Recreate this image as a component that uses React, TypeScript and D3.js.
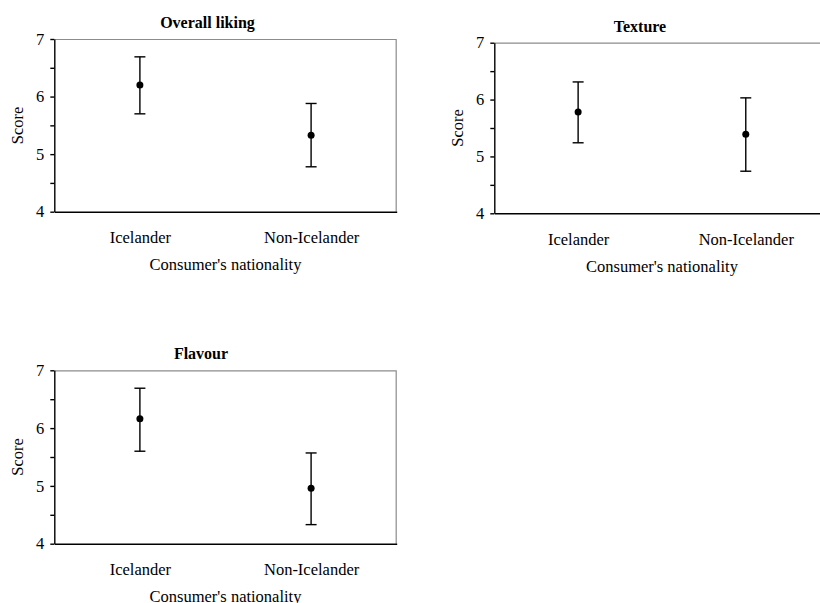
import React, { useRef, useEffect } from "react";
import { select, scaleLinear, scalePoint, axisLeft, axisBottom, range } from "d3";

// data
const categories = ["Icelander", "Non-Icelander"];
const yTicks = range(4, 7.01, 0.5);

const overallMean = [6.2, 5.33];
const overallLow = [5.7, 4.78];
const overallHigh = [6.69, 5.88];

const textureMean = [5.78, 5.39];
const textureLow = [5.24, 4.74];
const textureHigh = [6.31, 6.03];

const flavourMean = [6.16, 4.96];
const flavourLow = [5.6, 4.33];
const flavourHigh = [6.69, 5.57];

const xTitle = "Consumer's nationality";
const yTitle = "Score";

const W = 820;
const H = 603;
const FONT = "'Liberation Serif', 'Times New Roman', 'DejaVu Serif', serif";

const panels = [
  { title: "Overall liking", mean: overallMean, low: overallLow, high: overallHigh,
    left: 54.3, top: 39, width: 342.4, height: 172.7, titleX: 207.5, titleY: 22.7 },
  { title: "Texture", mean: textureMean, low: textureLow, high: textureHigh,
    left: 494.3, top: 42.7, width: 335.3, height: 170.6, titleX: 640, titleY: 26.7 },
  { title: "Flavour", mean: flavourMean, low: flavourLow, high: flavourHigh,
    left: 54.3, top: 370.3, width: 342.4, height: 173.4, titleX: 201, titleY: 353.3 },
];

const App = () => {
  const svgRef = useRef(null);

  useEffect(() => {
    const svg = select(svgRef.current);
    svg.selectAll("*").remove();

    panels.forEach(p => {
      const g = svg.append("g").attr("transform", `translate(${p.left},${p.top})`);

      const x = scalePoint().domain(categories).range([0, p.width]).padding(0.5);
      const y = scaleLinear().domain([4, 7]).range([p.height, 0]);

      // grey frame on top and right
      g.append("path")
        .attr("d", `M0,0.5H${p.width - 0.5}V${p.height}`)
        .attr("fill", "none")
        .attr("stroke", "#8c8c8c")
        .attr("stroke-width", 1.2);

      const yAxis = axisLeft(y)
        .tickValues(yTicks)
        .tickSize(4)
        .tickSizeOuter(0)
        .tickPadding(6)
        .tickFormat(d => (Number.isInteger(d) ? String(d) : ""));
      const ya = g.append("g").call(yAxis).attr("font-family", null).style("font-family", FONT);
      ya.selectAll("path, line").attr("stroke", "#000").attr("stroke-width", 1.4);
      ya.selectAll("text").style("font-family", FONT).attr("font-size", 16.5).attr("fill", "#000");

      const xAxis = axisBottom(x).tickSize(0).tickSizeOuter(0).tickPadding(20);
      const xa = g.append("g").attr("transform", `translate(0,${p.height})`).call(xAxis)
        .attr("font-family", null).style("font-family", FONT);
      xa.select(".domain").attr("stroke", "#000").attr("stroke-width", 1.4);
      xa.selectAll("text").style("font-family", FONT).attr("font-size", 16.5).attr("fill", "#000");

      // error bars
      const bars = g.selectAll(".err")
        .data(categories)
        .join("g")
        .attr("class", "err")
        .attr("transform", c => `translate(${x(c)},0)`);
      bars.append("line")
        .attr("y1", (c, i) => y(p.low[i]))
        .attr("y2", (c, i) => y(p.high[i]))
        .attr("stroke", "#000").attr("stroke-width", 1.4);
      bars.append("line")
        .attr("x1", -5.5).attr("x2", 5.5)
        .attr("y1", (c, i) => y(p.high[i])).attr("y2", (c, i) => y(p.high[i]))
        .attr("stroke", "#000").attr("stroke-width", 1.4);
      bars.append("line")
        .attr("x1", -5.5).attr("x2", 5.5)
        .attr("y1", (c, i) => y(p.low[i])).attr("y2", (c, i) => y(p.low[i]))
        .attr("stroke", "#000").attr("stroke-width", 1.4);
      bars.append("circle")
        .attr("cy", (c, i) => y(p.mean[i]))
        .attr("r", 3.5)
        .attr("fill", "#000");

      // titles
      svg.append("text")
        .attr("x", p.titleX).attr("y", p.titleY).attr("dy", "0.35em")
        .attr("text-anchor", "middle")
        .style("font-family", FONT).attr("font-size", 16).attr("font-weight", "bold")
        .text(p.title);

      g.append("text")
        .attr("x", p.width / 2).attr("y", p.height + 53).attr("dy", "0.35em")
        .attr("text-anchor", "middle")
        .style("font-family", FONT).attr("font-size", 16.5)
        .text(xTitle);

      g.append("text")
        .attr("transform", `translate(-37,${p.height / 2}) rotate(-90)`)
        .attr("dy", "0.35em")
        .attr("text-anchor", "middle")
        .style("font-family", FONT).attr("font-size", 16.5)
        .text(yTitle);
    });
  }, []);

  return (
    <svg
      ref={svgRef}
      width={W}
      height={H}
      style={{ position: "absolute", left: 0, top: 0, background: "#fff" }}
    />
  );
};

export default App;
